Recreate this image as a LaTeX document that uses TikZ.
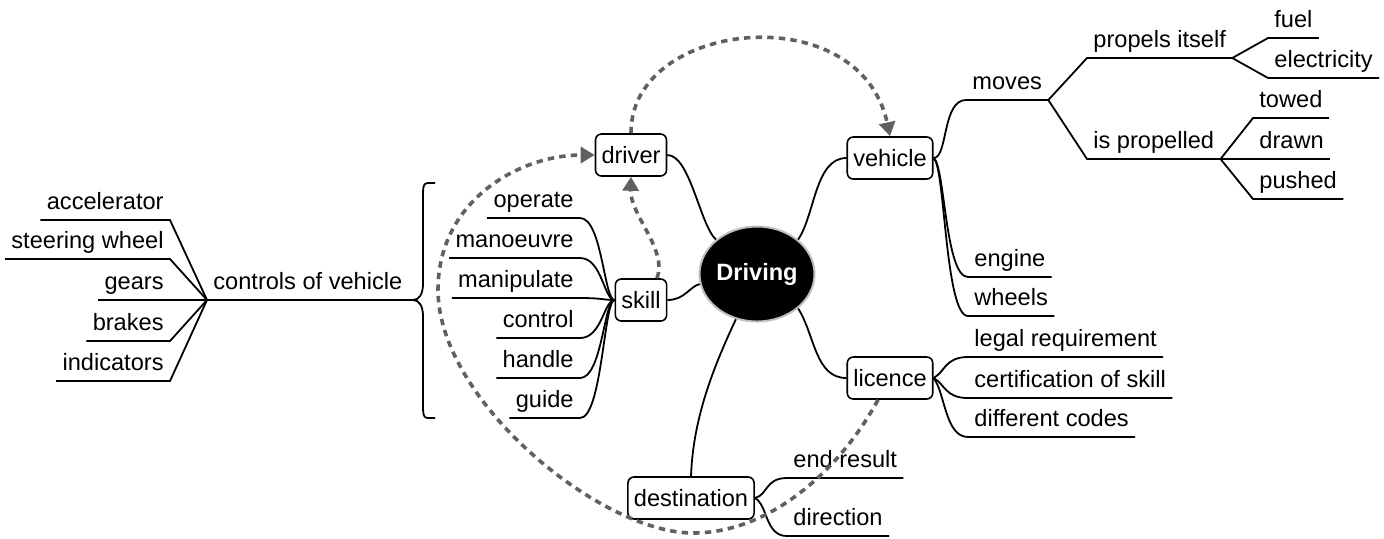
\documentclass[tikz,border=0pt]{standalone}
\usepackage{fontspec}
\setmainfont{Liberation Sans}
\usetikzlibrary{arrows.meta,shapes.geometric,calc}
\definecolor{dashgray}{HTML}{606060}
\begin{document}
\begin{tikzpicture}[x=0.5pt,y=-0.5pt,
  every node/.style={font=\fontsize{11.8pt}{14pt}\selectfont},
  box/.style={draw, rounded corners=3pt, line width=0.8pt, minimum height=21pt, inner xsep=3pt, inner ysep=0pt, fill=white},
  leaf/.style={inner xsep=3pt, inner ysep=0pt, text height=8.5pt, text depth=5pt},
  br/.style={line width=0.9pt},
  dep/.style={draw=dashgray, line width=1.8pt, dash pattern=on 3.2pt off 2.6pt, -{Triangle[length=7pt,width=8pt]}},
]
\useasboundingbox (0,0) rectangle (1384,538);

% central and main boxes
\node[ellipse, fill=black, draw=gray!50, line width=1pt, minimum width=54pt, minimum height=47.5pt, inner sep=0pt, text=white, font=\fontsize{11.8pt}{14pt}\selectfont\bfseries] (driving) at (757,274) {Driving};
\node[box] (driver) at (631,155) {driver};
\node[box] (skill) at (641,300) {skill};
\node[box] (vehicle) at (890,158) {vehicle};
\node[box] (licence) at (890,378) {licence};
\node[box] (dest) at (691,498) {destination};

% right leaves
\node[leaf, anchor=south west] (moves) at (966,100) {moves};
\node[leaf, anchor=south west] (propels) at (1087,58) {propels itself};
\node[leaf, anchor=south west] (fuel) at (1268,38) {fuel};
\node[leaf, anchor=south west] (elec) at (1268,78) {electricity};
\node[leaf, anchor=south west] (isprop) at (1087,159) {is propelled};
\node[leaf, anchor=south west] (towed) at (1253,118) {towed};
\node[leaf, anchor=south west] (drawn) at (1253,159) {drawn};
\node[leaf, anchor=south west] (pushed) at (1253,199) {pushed};
\node[leaf, anchor=south west] (engine) at (968,277) {engine};
\node[leaf, anchor=south west] (wheels) at (968,316) {wheels};
\node[leaf, anchor=south west] (legal) at (968,357) {legal requirement};
\node[leaf, anchor=south west] (cert) at (968,398) {certification of skill};
\node[leaf, anchor=south west] (codes) at (968,437) {different codes};
\node[leaf, anchor=south west] (endres) at (787,478) {end result};
\node[leaf, anchor=south west] (direc) at (787,536) {direction};

% skill leaves
\node[leaf, anchor=south east] (operate) at (580,218) {operate};
\node[leaf, anchor=south east] (manoeuvre) at (580,258) {manoeuvre};
\node[leaf, anchor=south east] (manipulate) at (580,298) {manipulate};
\node[leaf, anchor=south east] (control) at (580,338) {control};
\node[leaf, anchor=south east] (handle) at (580,378) {handle};
\node[leaf, anchor=south east] (guide) at (580,418) {guide};

% left leaves
\node[leaf, anchor=south west] (ctrl) at (207,300) {controls of vehicle};
\coordinate (bt) at (413,300);
\node[leaf, anchor=south east] (acc) at (170,220) {accelerator};
\node[leaf, anchor=south east] (steer) at (170,259) {steering wheel};
\node[leaf, anchor=south east] (gears) at (170,300) {gears};
\node[leaf, anchor=south east] (brakes) at (170,341) {brakes};
\node[leaf, anchor=south east] (indic) at (170,381) {indicators};

% connectors from the centre
\draw[br] (driving.140) .. controls (700,225) and (690,155) .. (driver.east);
\draw[br] (driving.190) .. controls (690,286) and (685,300) .. (skill.east);
\draw[br] (driving.40) .. controls (815,215) and (815,158) .. (vehicle.west);
\draw[br] (driving.-40) .. controls (815,335) and (815,378) .. (licence.west);
\draw[br] (driving.245) .. controls (712,370) and (693,420) .. (dest.north);

% vehicle branch
\draw[br] (vehicle.east) .. controls (948,158) and (942,100) .. (moves.south west) -- (moves.south east);
\draw[br] (moves.south east) -- (propels.south west) -- (propels.south east);
\draw[br] (moves.south east) -- (isprop.south west) -- (isprop.south east);
\draw[br] (propels.south east) -- (fuel.south west) -- (fuel.south east);
\draw[br] (propels.south east) -- (elec.south west) -- (elec.south east);
\draw[br] (isprop.south east) -- (towed.south west) -- (towed.south east);
\draw[br] (isprop.south east) -- (drawn.south west) -- (drawn.south east);
\draw[br] (isprop.south east) -- (pushed.south west) -- (pushed.south east);
\draw[br] (vehicle.east) .. controls (945,165) and (945,277) .. (engine.south west) -- (engine.south east);
\draw[br] (vehicle.east) .. controls (945,165) and (945,316) .. (wheels.south west) -- (wheels.south east);

% licence branch
\draw[br] (licence.east) .. controls (945,372) and (945,357) .. (legal.south west) -- (legal.south east);
\draw[br] (licence.east) .. controls (945,384) and (945,398) .. (cert.south west) -- (cert.south east);
\draw[br] (licence.east) .. controls (945,392) and (945,437) .. (codes.south west) -- (codes.south east);

% destination branch
\draw[br] (dest.east) .. controls (768,495) and (765,478) .. (endres.south west) -- (endres.south east);
\draw[br] (dest.east) .. controls (768,505) and (765,536) .. (direc.south west) -- (direc.south east);

% skill branch
\foreach \n in {operate,manoeuvre,manipulate,control,handle,guide}
  \draw[br] (skill.west) .. controls (604,300) and ($(\n.south east)+(22,0)$) .. (\n.south east) -- (\n.south west);

% controls of vehicle
\foreach \n in {acc,steer,gears,brakes,indic}
  \draw[br] (ctrl.south west) -- (\n.south east) -- (\n.south west);
\draw[br] (ctrl.south west) -- (bt);
\draw[br] (435,183) -- (428,183) .. controls (424,183) and (423,186) .. (423,193) -- (423,284)
  .. controls (423,294) and (419,300) .. (bt)
  .. controls (419,300) and (423,306) .. (423,316) -- (423,408)
  .. controls (423,415) and (424,418) .. (428,418) -- (435,418);

% dashed relations
\coordinate (w1) at (693,533);
\coordinate (w2) at (438,290);
\draw[dep] (driver.north) .. controls (630,20) and (860,-5) .. (vehicle.north);
\draw[dep] ([xshift=8pt]skill.north) .. controls (668,250) and (630,215) .. (driver.south);
\draw[dep] ([xshift=-6pt]licence.south) .. controls (840,470) and (770,533) .. (w1)
  .. controls (600,533) and (438,400) .. (w2)
  .. controls (438,200) and (520,155) .. (driver.west);
\end{tikzpicture}
\end{document}
